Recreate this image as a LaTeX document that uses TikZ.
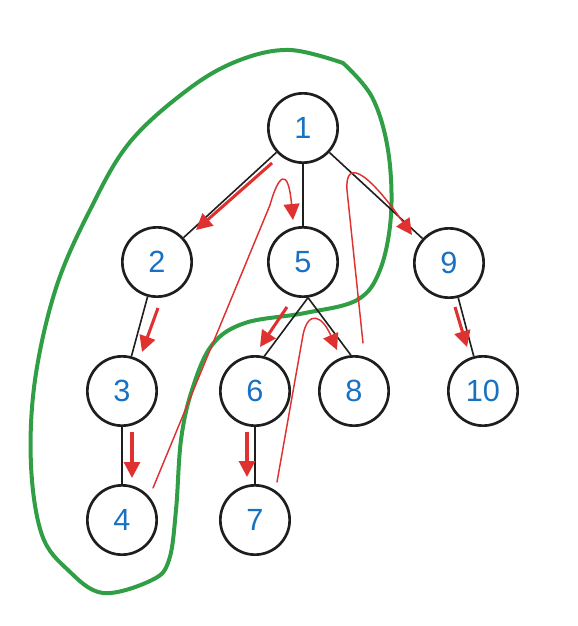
\documentclass[tikz,border=0pt]{standalone}
\usepackage{fontspec}
\setmainfont{Liberation Sans}
\usetikzlibrary{arrows.meta}
\definecolor{exgreen}{HTML}{2F9E44}
\definecolor{exred}{HTML}{E03131}
\definecolor{exblue}{HTML}{1971C2}
\definecolor{exblack}{HTML}{1E1E1E}
\begin{document}
\begin{tikzpicture}[x=0.75pt,y=-0.75pt,
  vert/.style={circle,draw=exblack,line width=2pt,minimum size=52pt,inner sep=0pt,text=exblue,font=\fontsize{23}{23}\selectfont},
  treeedge/.style={draw=exblack,line width=1.2pt},
  thickarrow/.style={draw=exred,line width=2.3pt,-{Triangle[length=12pt,width=12pt]}},
  thinarrow/.style={draw=exred,line width=1.1pt,line cap=round,line join=round,-{Triangle[length=12pt,width=12pt]}},
  loopline/.style={draw=exgreen,line width=3pt,line cap=round,line join=round}]
\useasboundingbox (0,0) rectangle (578,626);
% green loop
\draw[loopline] plot[smooth,tension=0.6] coordinates {(343,63) (372,97) (388,150) (391,215) (380,270) (357,300) (305,313) (245,323) (212,345) (192,390) (181,440) (176,510) (169,560) (152,580) (103,593) (68,570) (42,535) (31,465) (35,380) (56,288) (90,210) (130,142) (190,88) (240,60) (290,50) (343,63)};
% nodes
\node[vert] (n1) at (303,128) {1};
\node[vert] (n2) at (157,262) {2};
\node[vert] (n5) at (303,262) {5};
\node[vert] (n9) at (449,263) {9};
\node[vert] (n3) at (122,391) {3};
\node[vert] (n6) at (255,391) {6};
\node[vert] (n8) at (354,391) {8};
\node[vert] (n10) at (483,391) {10};
\node[vert] (n4) at (122,520) {4};
\node[vert] (n7) at (255,520) {7};
% tree edges
\draw[treeedge] (n1) -- (n2);
\draw[treeedge] (n1) -- (n5);
\draw[treeedge] (n1) -- (n9);
\draw[treeedge] (n2) -- (n3);
\draw[treeedge] (n3) -- (n4);
\draw[treeedge] (n5.-82) -- (n6.75);
\draw[treeedge] (n5.-82) -- (n8.95);
\draw[treeedge] (n6) -- (n7);
\draw[treeedge] (n9) -- (n10);
% traversal coordinates
\coordinate (a12s) at (272,163); \coordinate (a12e) at (196,230);
\coordinate (a23s) at (158,308); \coordinate (a23e) at (142,352);
\coordinate (a34s) at (132,432); \coordinate (a34e) at (132,478);
\coordinate (a56s) at (287,307); \coordinate (a56e) at (260,347);
\coordinate (a67s) at (247,432); \coordinate (a67e) at (247,477);
\coordinate (a910s) at (455,307); \coordinate (a910e) at (467,347);
\coordinate (b4) at (153,488); \coordinate (b5) at (293,220);
\coordinate (b7) at (277,482); \coordinate (b8) at (337,350);
\coordinate (b8s) at (363,343); \coordinate (b9) at (412,235);
% traversal arrows
\draw[thickarrow] (a12s) -- (a12e);
\draw[thickarrow] (a23s) -- (a23e);
\draw[thickarrow] (a34s) -- (a34e);
\draw[thickarrow] (a56s) -- (a56e);
\draw[thickarrow] (a67s) -- (a67e);
\draw[thickarrow] (a910s) -- (a910e);
\draw[thinarrow] (b4) -- (270,205) .. controls (278,176) and (288,165) .. (b5);
\draw[thinarrow] (b7) -- (303,335) .. controls (308,310) and (322,315) .. (b8);
\draw[thinarrow] (b8s) -- (347,190) .. controls (345,160) and (365,168) .. (b9);
\end{tikzpicture}
\end{document}
